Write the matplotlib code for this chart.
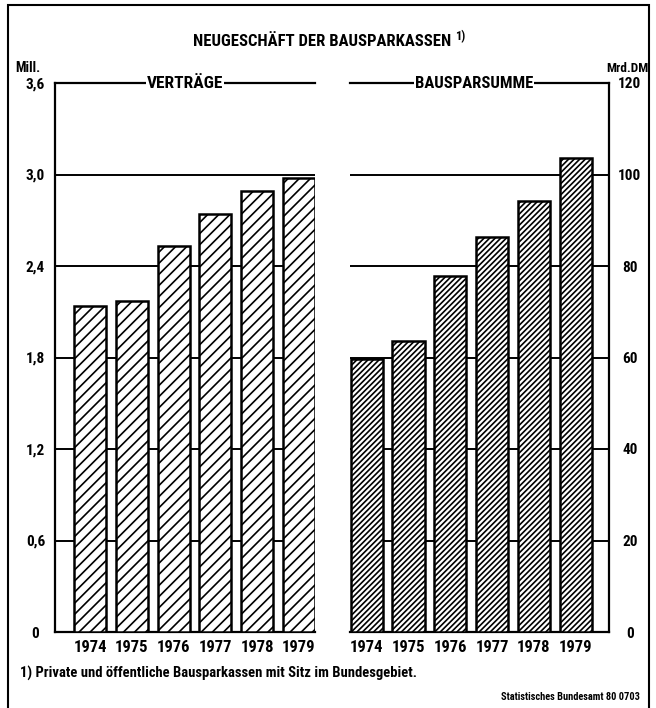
import matplotlib
matplotlib.use("Agg")
import matplotlib.pyplot as plt
from matplotlib.patches import Rectangle

plt.rcParams['font.family'] = ['Roboto Condensed', 'DejaVu Sans']
plt.rcParams['font.weight'] = 'bold'
plt.rcParams['hatch.linewidth'] = 1.2

years = ['1974', '1975', '1976', '1977', '1978', '1979']
vertraege = [2.14, 2.17, 2.53, 2.74, 2.89, 2.98]          # Mill.
bausparsumme = [59.7, 63.7, 77.8, 86.4, 94.2, 103.7]     # Mrd. DM
left_ticks = [0, 0.6, 1.2, 1.8, 2.4, 3.0, 3.6]
left_labels = ['0', '0,6', '1,2', '1,8', '2,4', '3,0', '3,6']
right_ticks = [0, 20, 40, 60, 80, 100, 120]

W, H = 656, 708
fig = plt.figure(figsize=(W / 100, H / 100), dpi=100)


def px(x0, y0, x1, y1):
    return [x0 / W, 1 - y1 / H, (x1 - x0) / W, (y1 - y0) / H]


ax1 = fig.add_axes(px(55, 83, 315, 632))
ax2 = fig.add_axes(px(350, 83, 609, 632))

x = list(range(len(years)))
ax1.bar(x, vertraege, width=0.767, color='white', edgecolor='black',
        linewidth=1.8, hatch='///', zorder=3)
ax2.bar(x, bausparsumme, width=0.767, color='white', edgecolor='black',
        linewidth=1.8, hatch='//////', zorder=3)

ax1.set_xlim(-0.84, 5.384)
ax1.set_ylim(0, 3.6)
ax2.set_xlim(-0.40, 5.80)
ax2.set_ylim(0, 120)

for ax in (ax1, ax2):
    ax.set_xticks(x)
    ax.set_xticklabels(years, fontsize=12)
    ax.tick_params(axis='x', length=0, pad=6)
    ax.grid(axis='y', color='black', linewidth=1.4, zorder=1)
    for s in ax.spines.values():
        s.set_linewidth(1.6)

ax1.set_yticks(left_ticks)
ax1.set_yticklabels(left_labels, fontsize=11)
ax1.tick_params(axis='y', length=0, pad=14)
for lab in ax1.get_yticklabels():
    lab.set_horizontalalignment('center')
ax1.spines['right'].set_visible(False)

ax2.yaxis.tick_right()
ax2.set_yticks(right_ticks)
ax2.set_yticklabels([str(t) for t in right_ticks], fontsize=11)
ax2.tick_params(axis='y', length=0, pad=15)
for lab in ax2.get_yticklabels():
    lab.set_horizontalalignment('center')
ax2.spines['left'].set_visible(False)

# panel headings sitting on the top line
ax1.text(0.5, 1.0, 'VERTRÄGE', transform=ax1.transAxes, ha='center', va='center',
         fontsize=12.5, bbox=dict(facecolor='white', edgecolor='none', pad=0.5), zorder=5)
ax2.text(0.48, 1.0, 'BAUSPARSUMME', transform=ax2.transAxes, ha='center', va='center',
         fontsize=12, bbox=dict(facecolor='white', edgecolor='none', pad=0.5), zorder=5)

fig.text(322 / W, 1 - 42 / H, 'NEUGESCHÄFT DER BAUSPARKASSEN', ha='center', va='center',
         fontsize=12)
fig.text(455 / W, 1 - 37 / H, '1)', ha='left', va='center', fontsize=9)
fig.text(28 / W, 1 - 68 / H, 'Mill.', ha='center', va='center', fontsize=10)
fig.text(627 / W, 1 - 68 / H, 'Mrd.DM', ha='center', va='center', fontsize=9.5)
fig.text(20 / W, 1 - 673 / H, '1) Private und öffentliche Bausparkassen mit Sitz im Bundesgebiet.',
         ha='left', va='center', fontsize=10.5)
fig.text(640 / W, 1 - 697 / H, 'Statistisches Bundesamt 80 0703', ha='right', va='center',
         fontsize=7.5)

fig.patches.append(Rectangle((8 / W, -0.01), 641 / W, 1 - 5 / H + 0.01,
                             transform=fig.transFigure, fill=False,
                             edgecolor='black', linewidth=1.5))

fig.savefig('out.png', dpi=100)
